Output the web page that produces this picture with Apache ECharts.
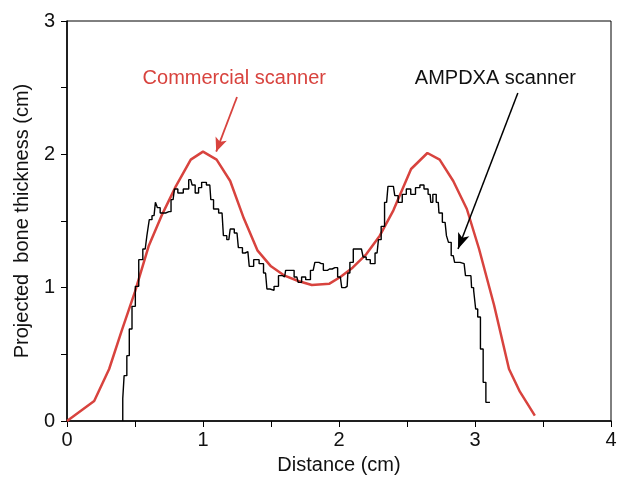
<!DOCTYPE html>
<html>
<head>
<meta charset="utf-8">
<script src="https://cdn.jsdelivr.net/npm/echarts@6/dist/echarts.min.js"></script>
<style>
  html, body { margin: 0; padding: 0; background: #fff; }
  #chart { width: 620px; height: 477px; }
</style>
</head>
<body>
<div id="chart"></div>
<script>
// commercial scanner profile (red)
var commX = [0, 0.2, 0.31, 0.4, 0.5, 0.6, 0.7, 0.8, 0.91, 1.0, 1.1, 1.2, 1.3, 1.4, 1.5, 1.6, 1.7, 1.8, 1.93, 2.01, 2.1, 2.2, 2.3, 2.4, 2.53, 2.65, 2.74, 2.84, 2.94, 3.03, 3.14, 3.25, 3.33, 3.44];
var commY = [0, 0.15, 0.39, 0.67, 0.97, 1.31, 1.55, 1.76, 1.96, 2.02, 1.96, 1.8, 1.52, 1.28, 1.16, 1.09, 1.05, 1.02, 1.03, 1.08, 1.15, 1.25, 1.39, 1.58, 1.89, 2.01, 1.96, 1.8, 1.59, 1.29, 0.87, 0.39, 0.22, 0.04];

// AMPDXA scanner profile (black)
var ampX = [0.41, 0.41, 0.43, 0.45, 0.466, 0.49, 0.515, 0.54, 0.575, 0.6, 0.61, 0.64, 0.66, 0.67, 0.7, 0.75, 0.78, 0.8, 0.83, 0.88, 0.91, 0.93, 0.955, 0.98, 1.0, 1.05, 1.065, 1.09, 1.14, 1.16, 1.19, 1.21, 1.25, 1.27, 1.31, 1.33, 1.35, 1.395, 1.43, 1.46, 1.48, 1.505, 1.54, 1.57, 1.6, 1.615, 1.65, 1.69, 1.71, 1.74, 1.77, 1.81, 1.835, 1.87, 1.9, 1.93, 1.97, 2.01, 2.03, 2.06, 2.07, 2.09, 2.12, 2.165, 2.19, 2.21, 2.25, 2.28, 2.3, 2.32, 2.35, 2.37, 2.4, 2.42, 2.45, 2.48, 2.51, 2.545, 2.58, 2.61, 2.64, 2.67, 2.68, 2.7, 2.73, 2.74, 2.78, 2.8, 2.81, 2.84, 2.86, 2.92, 2.94, 2.97, 2.98, 3.0, 3.01, 3.03, 3.05, 3.07, 3.09, 3.11];
var ampY = [0, 0.17, 0.34, 0.49, 0.69, 0.86, 1.01, 1.21, 1.29, 1.39, 1.51, 1.54, 1.64, 1.6, 1.56, 1.57, 1.66, 1.74, 1.71, 1.74, 1.81, 1.77, 1.71, 1.75, 1.79, 1.77, 1.66, 1.59, 1.56, 1.39, 1.36, 1.44, 1.41, 1.3, 1.26, 1.27, 1.16, 1.21, 1.18, 1.11, 0.99, 0.98, 1.01, 1.09, 1.08, 1.13, 1.13, 1.08, 1.04, 1.08, 1.06, 1.13, 1.19, 1.18, 1.13, 1.14, 1.15, 1.08, 1.0, 1.01, 1.11, 1.19, 1.29, 1.29, 1.23, 1.21, 1.18, 1.26, 1.36, 1.46, 1.64, 1.76, 1.76, 1.69, 1.64, 1.7, 1.74, 1.7, 1.75, 1.77, 1.74, 1.7, 1.64, 1.7, 1.64, 1.56, 1.49, 1.39, 1.34, 1.24, 1.19, 1.18, 1.09, 1.09, 1.0, 0.98, 0.84, 0.78, 0.54, 0.29, 0.14, 0.14];

var xTicks = [0, 4, 1];
var yTicks = [0, 3, 1];

var red = "#d8433e";
var font = "Liberation Sans, Arial, sans-serif";

function pairs(xs, ys) {
  return xs.map(function(x, i) { return [x, ys[i]]; });
}

var chart = echarts.init(document.getElementById("chart"));
var option = {
  animation: false,
  textStyle: { fontFamily: font },
  grid: {
    left: 67,
    right: 9,
    top: 21,
    bottom: 56,
    outerBoundsMode: "none",
    show: true,
    borderColor: "#000",
    borderWidth: 1
  },
  xAxis: {
    type: "value",
    min: xTicks[0],
    max: xTicks[1],
    interval: xTicks[2],
    name: "Distance (cm)",
    nameLocation: "middle",
    nameGap: 34,
    nameTextStyle: { color: "#111", fontSize: 20, fontFamily: font },
    axisLine: { lineStyle: { color: "#000", width: 1.5 } },
    axisTick: { length: 6, lineStyle: { color: "#000" } },
    minorTick: { show: true, splitNumber: 2, length: 6, lineStyle: { color: "#000" } },
    splitLine: { show: false },
    axisLabel: { color: "#111", fontSize: 20, margin: 9 }
  },
  yAxis: {
    type: "value",
    min: yTicks[0],
    max: yTicks[1],
    interval: yTicks[2],
    name: "Projected  bone thickness (cm)",
    nameLocation: "middle",
    nameGap: 35,
    nameTextStyle: { color: "#111", fontSize: 20, fontFamily: font },
    axisLine: { lineStyle: { color: "#000", width: 1.5 } },
    axisTick: { length: 6, lineStyle: { color: "#000" } },
    minorTick: { show: true, splitNumber: 2, length: 6, lineStyle: { color: "#000" } },
    splitLine: { show: false },
    axisLabel: { color: "#111", fontSize: 20, margin: 12 }
  },
  series: [
    {
      name: "Commercial scanner",
      type: "line",
      data: pairs(commX, commY),
      showSymbol: false,
      lineStyle: { color: red, width: 2.5 },
      z: 3,
      markLine: {
        silent: true,
        symbol: ["none", "arrow"],
        symbolSize: [9, 14],
        label: { show: false },
        lineStyle: { color: red, width: 1.8, type: "solid" },
        data: [[{ coord: [1.25, 2.43] }, { coord: [1.097, 2.02] }]]
      },
      markPoint: {
        symbol: "circle",
        symbolSize: 0,
        label: { show: true, color: red, fontSize: 20, fontFamily: font, formatter: "Commercial scanner" },
        data: [{ coord: [1.23, 2.57] }]
      }
    },
    {
      name: "AMPDXA scanner",
      type: "line",
      step: "middle",
      data: pairs(ampX, ampY),
      showSymbol: false,
      lineStyle: { color: "#000", width: 1.4 },
      z: 4,
      markLine: {
        silent: true,
        symbol: ["none", "arrow"],
        symbolSize: [9, 16],
        label: { show: false },
        lineStyle: { color: "#000", width: 1.5, type: "solid" },
        data: [[{ coord: [3.315, 2.46] }, { coord: [2.875, 1.29] }]]
      },
      markPoint: {
        symbol: "circle",
        symbolSize: 0,
        label: { show: true, color: "#111", fontSize: 20, fontFamily: font, formatter: "AMPDXA scanner" },
        data: [{ coord: [3.15, 2.57] }]
      }
    }
  ]
};
chart.setOption(option);
</script>
</body>
</html>
